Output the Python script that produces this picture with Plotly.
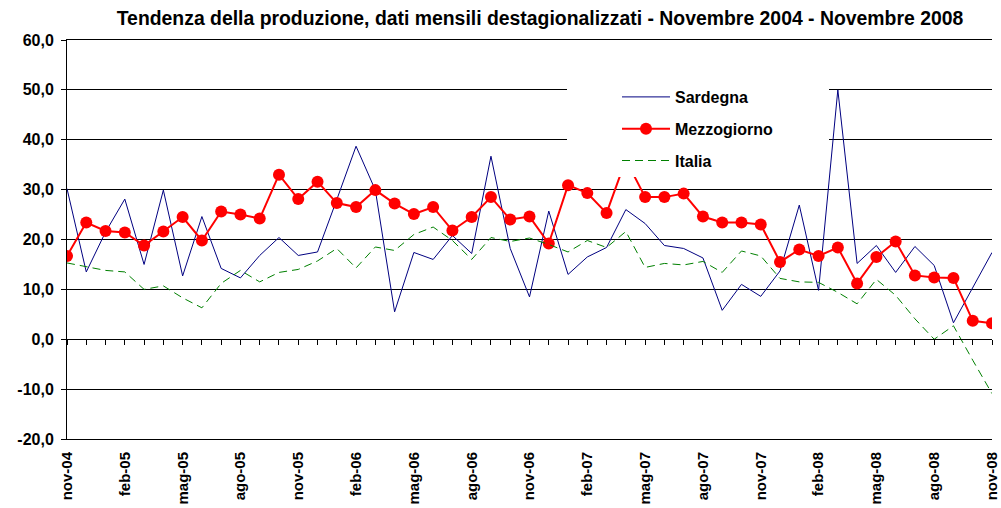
import plotly.graph_objects as go

mesi = ["nov-04", "dic-04", "gen-05", "feb-05", "mar-05", "apr-05", "mag-05", "giu-05", "lug-05", "ago-05", "set-05", "ott-05",
        "nov-05", "dic-05", "gen-06", "feb-06", "mar-06", "apr-06", "mag-06", "giu-06", "lug-06", "ago-06", "set-06", "ott-06",
        "nov-06", "dic-06", "gen-07", "feb-07", "mar-07", "apr-07", "mag-07", "giu-07", "lug-07", "ago-07", "set-07", "ott-07",
        "nov-07", "dic-07", "gen-08", "feb-08", "mar-08", "apr-08", "mag-08", "giu-08", "lug-08", "ago-08", "set-08", "ott-08",
        "nov-08"]

sardegna = [30.2, 13.5, 21.5, 28.1, 15.0, 29.9, 12.7, 24.6, 14.2, 12.3, 16.8, 20.4,
            16.8, 17.5, 28.0, 38.7, 29.9, 5.5, 17.4, 16.0, 20.8, 17.2, 36.7, 18.2,
            8.5, 25.7, 13.0, 16.5, 18.4, 26.0, 23.2, 18.8, 18.2, 16.3, 5.8, 11.0,
            8.6, 13.7, 26.9, 9.8, 50.0, 15.2, 18.8, 13.4, 18.6, 14.8, 3.3, 10.5,
            17.4]

mezzogiorno = [16.7, 23.4, 21.7, 21.4, 18.8, 21.6, 24.5, 19.8, 25.6, 25.0, 24.2, 33.0,
               28.1, 31.6, 27.3, 26.5, 29.9, 27.2, 25.1, 26.5, 21.8, 24.5, 28.5, 24.0,
               24.6, 19.2, 30.9, 29.3, 25.3, 36.0, 28.5, 28.5, 29.2, 24.6, 23.4, 23.4,
               23.0, 15.5, 18.0, 16.7, 18.4, 11.2, 16.5, 19.6, 12.8, 12.4, 12.3, 3.7,
               3.2]

italia = [15.3, 14.6, 13.8, 13.5, 10.0, 10.7, 8.3, 6.3, 11.2, 13.8, 11.5, 13.4,
          14.0, 15.7, 18.2, 14.3, 18.5, 17.8, 21.0, 22.5, 19.8, 16.0, 20.4, 19.6,
          20.3, 19.0, 17.5, 19.8, 18.4, 21.6, 14.4, 15.2, 14.9, 15.6, 13.4, 17.7,
          16.7, 12.2, 11.5, 11.4, 9.4, 7.1, 12.0, 8.8, 4.1, 0.0, 2.7, -4.2,
          -10.9]

y_ticks = [-20, -10, 0, 10, 20, 30, 40, 50, 60]
y_labels = ["-20,0", "-10,0", "0,0", "10,0", "20,0", "30,0", "40,0", "50,0", "60,0"]
x_tick_labels = mesi[::3]

titolo = "Tendenza della produzione, dati mensili destagionalizzati - Novembre 2004 - Novembre 2008"

FONT = "Liberation Sans, Arial, sans-serif"


def bold(s):
    return "<b>" + s + "</b>"


fig = go.Figure()
fig.add_trace(go.Scatter(x=mesi, y=sardegna, name=bold("Sardegna"), mode="lines",
                         line=dict(color="#000080", width=1), legendgroup="a"))
fig.add_trace(go.Scatter(x=mesi, y=mezzogiorno, name=bold("Mezzogiorno"), mode="lines+markers",
                         line=dict(color="#FF0000", width=2),
                         marker=dict(color="#FF0000", size=12), legendgroup="b"))
fig.add_trace(go.Scatter(x=mesi, y=italia, name=bold("Italia"), mode="lines",
                         line=dict(color="#008000", width=1, dash="8px,5px"), legendgroup="c"))
# helper trace for the zero-line axis with monthly ticks
fig.add_trace(go.Scatter(x=mesi, y=[None] * len(mesi), xaxis="x2", showlegend=False,
                         hoverinfo="skip", mode="lines"))

W, H = 1001, 508
L, R, T, B = 67, 9, 40, 69
pw, ph = W - L - R, H - T - B


def px_x(p):
    return (p - L) / pw


def px_y(p):
    return (H - B - p) / ph


fig.update_layout(
    width=W, height=H,
    margin=dict(l=L, r=R, t=T, b=B, autoexpand=False),
    paper_bgcolor="white", plot_bgcolor="white",
    font=dict(family=FONT, color="black", size=13),
    title=dict(text=bold(titolo), x=540 / W, xref="container", xanchor="center",
               y=1 - 18 / H, yanchor="middle",
               font=dict(family=FONT, size=19.4, color="black")),
    xaxis=dict(type="category", categoryorder="array", categoryarray=mesi,
               range=[0, len(mesi) - 1], tickmode="array", tickvals=x_tick_labels,
               ticktext=[bold(t) for t in x_tick_labels], tickangle=-90, showgrid=False,
               zeroline=False, showline=True, mirror=True, linecolor="black", linewidth=1,
               ticks="", automargin=False, ticklabelstandoff=6,
               tickfont=dict(family=FONT, size=15)),
    xaxis2=dict(type="category", categoryorder="array", categoryarray=mesi,
                overlaying="x", anchor="free", position=0.25, range=[0, len(mesi) - 1],
                showline=True, linecolor="black", linewidth=1, ticks="outside", ticklen=5,
                tickcolor="black", tickwidth=1, tickmode="linear", dtick=1,
                showticklabels=False, showgrid=False, zeroline=False, side="bottom"),
    yaxis=dict(range=[-20, 60], tickmode="array", tickvals=y_ticks,
               ticktext=[bold(t) for t in y_labels], automargin=False,
               showgrid=True, gridcolor="black", gridwidth=1, zeroline=False,
               showline=True, linecolor="black", linewidth=1, ticks="outside", ticklen=5,
               tickcolor="black", ticklabelstandoff=4, tickfont=dict(family=FONT, size=16)),
    legend=dict(x=px_x(617), xanchor="left", y=px_y(80), yanchor="top",
                bgcolor="rgba(0,0,0,0)", borderwidth=0, itemwidth=48,
                traceorder="grouped", tracegroupgap=8,
                font=dict(family=FONT, size=16, color="black")),
    shapes=[dict(type="rect", xref="paper", yref="paper",
                 x0=px_x(567), x1=px_x(829), y0=px_y(177), y1=px_y(72),
                 fillcolor="white", line=dict(width=0), layer="above")],
    showlegend=True,
)

fig.write_html("out.html", config={"displayModeBar": False},
               post_script="document.body.style.margin='0px';document.body.style.overflow='hidden';")
